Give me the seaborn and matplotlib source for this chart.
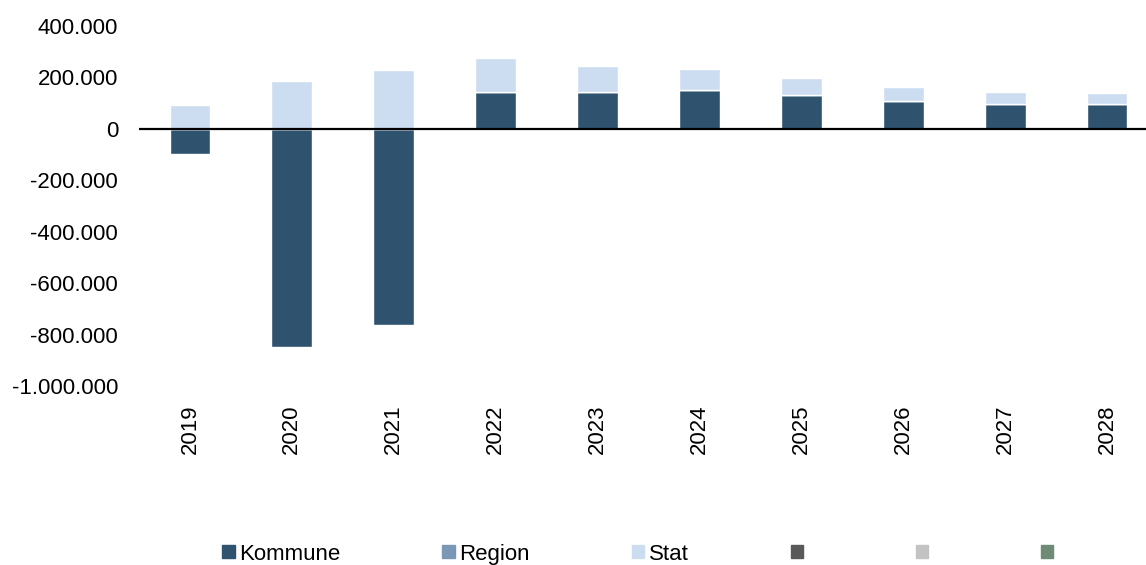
import pandas as pd
import seaborn as sns
import matplotlib.pyplot as plt
from matplotlib.patches import Patch

# data
years = ["2019", "2020", "2021", "2022", "2023", "2024", "2025", "2026", "2027", "2028"]
kommune = [-97000, -847000, -764000, 143000, 142000, 152000, 132000, 110000, 97000, 97000]
region = [0, 0, 0, 0, 0, 0, 0, 0, 0, 0]
stat = [93000, 186000, 230000, 132000, 103000, 81000, 65000, 52000, 47000, 43000]

c_kommune = "#2F536F"
c_region = "#7A98B5"
c_stat = "#CCDDF1"
c_extra = ["#595959", "#C3C3C3", "#6E8B77"]

df = pd.DataFrame({"aar": years, "Kommune": kommune, "Region": region, "Stat": stat})
# stacking: positive parts pile up, negative parts go down from 0
df["bund_region"] = df["Kommune"].clip(lower=0)
df["bund_stat"] = df["bund_region"] + df["Region"].clip(lower=0)

sns.set_theme(style="white")
plt.rcParams["font.family"] = ["Liberation Sans", "DejaVu Sans"]
plt.rcParams["text.color"] = "black"
plt.rcParams["xtick.color"] = "black"
plt.rcParams["ytick.color"] = "black"

fig = plt.figure(figsize=(11.46, 5.65), dpi=100)
ax = fig.add_axes([139 / 1146, 179 / 565, 1019 / 1146, 360 / 565])

sns.barplot(data=df, x="aar", y="Kommune", color=c_kommune, saturation=1, width=0.4, ax=ax)
sns.barplot(data=df, x="aar", y="Region", bottom=df["bund_region"], color=c_region,
            saturation=1, width=0.4, ax=ax)
sns.barplot(data=df, x="aar", y="Stat", bottom=df["bund_stat"], color=c_stat,
            saturation=1, width=0.4, ax=ax)

ax.axhline(0, color="black", linewidth=1.6, zorder=5)
ax.set_ylim(-1000000, 400000)
ax.set_yticks(range(-1000000, 400001, 200000))
ax.set_yticklabels([f"{v:,}".replace(",", ".") for v in range(-1000000, 400001, 200000)])
ax.tick_params(axis="y", length=0, pad=15, labelsize=16)
ax.tick_params(axis="x", length=0, pad=13, labelsize=16, rotation=90)
ax.set_xlabel("")
ax.set_ylabel("")
for s in ax.spines.values():
    s.set_visible(False)

handles = [Patch(color=c_kommune), Patch(color=c_region), Patch(color=c_stat)]
handles += [Patch(color=c) for c in c_extra]
labels = ["Kommune", "Region", "Stat", " ", " ", " "]
fig.legend(handles, labels, loc="lower center", bbox_to_anchor=(0.561, -0.019), ncol=6,
           frameon=False, fontsize=16, handlelength=0.55, handleheight=0.55,
           handletextpad=0.2, columnspacing=4.6, borderpad=0)

fig.savefig("out.png", dpi=100)
